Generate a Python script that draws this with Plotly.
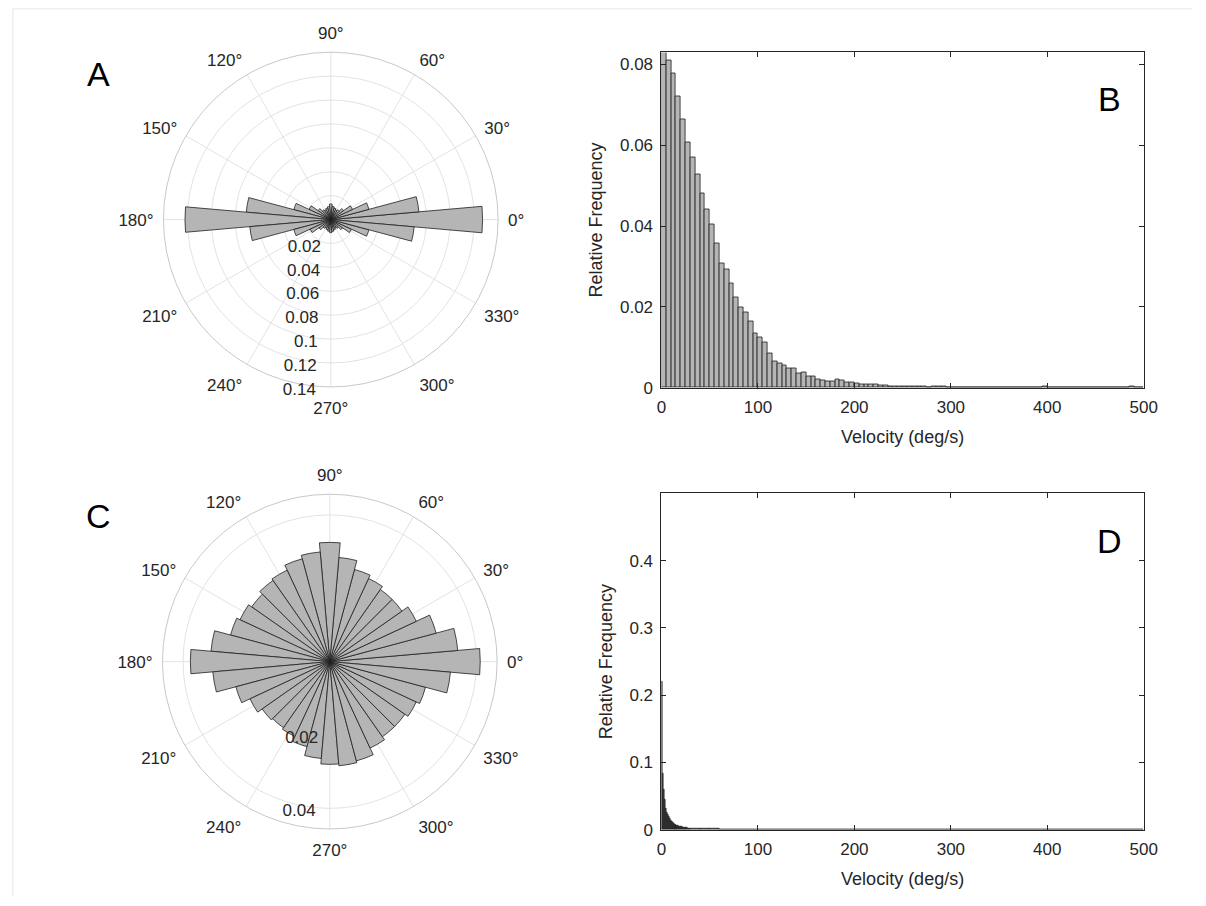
import numpy as np
import plotly.graph_objects as go

# ---------------- data ----------------
theta_centers = list(range(0, 360, 10))

# Panel A: relative frequency per 10-degree direction bin
rose_a = [0.127, 0.074, 0.033, 0.020, 0.013, 0.010, 0.009, 0.010, 0.011,
          0.013, 0.011, 0.010, 0.009, 0.010, 0.013, 0.020, 0.032, 0.071,
          0.122, 0.068, 0.032, 0.019, 0.012, 0.009, 0.008, 0.009, 0.010,
          0.011, 0.010, 0.009, 0.008, 0.009, 0.012, 0.019, 0.033, 0.070]

# Panel C
rose_c = [0.041, 0.035, 0.030, 0.026, 0.024, 0.024, 0.025, 0.026, 0.0285,
          0.0325, 0.030, 0.029, 0.0275, 0.027, 0.026, 0.027, 0.028, 0.0325,
          0.038, 0.032, 0.0265, 0.024, 0.0225, 0.022, 0.0225, 0.024, 0.0265,
          0.028, 0.0285, 0.028, 0.026, 0.025, 0.025, 0.026, 0.027, 0.033]

# Panel B: velocity histogram, 5 deg/s bins from 0 to 500
bin_width_b = 5
hist_b = [0.0832, 0.0811, 0.0777, 0.0722, 0.0664, 0.0606, 0.0569, 0.0528, 0.0480, 0.0442,
          0.0405, 0.0358, 0.0307, 0.0294, 0.0259, 0.0223, 0.0199, 0.0186, 0.0163, 0.0134,
          0.0125, 0.0112, 0.0085, 0.0065, 0.0059, 0.0055, 0.0047, 0.0047, 0.0036, 0.0039,
          0.0029, 0.0029, 0.0021, 0.0019, 0.0016, 0.0015, 0.0020, 0.0018, 0.0013, 0.0012,
          0.0011, 0.0007, 0.0007, 0.0009, 0.0007, 0.0005, 0.0005, 0.0004, 0.0004, 0.0003,
          0.0004, 0.0002, 0.0003, 0.0002, 0.0002, 0.0001, 0.0002, 0.0004, 0.0003, 0.0001,
          0.0001, 0.00015, 0.0001, 0.00008, 0.0001, 0.00012, 0.0001, 0.00008, 0.0001, 0.0001,
          0.00006, 0.0001, 0.00012, 0.0001, 0.00008, 0.0001, 0.00006, 0.0001, 0.00008, 0.0002,
          0.0001, 0.00006, 0.0001, 0.00008, 0.0001, 0.0, 0.0, 0.0, 0.0, 0.0,
          0.0, 0.0, 0.0, 0.0, 0.0, 0.0, 0.0, 0.0002, 0.0, 0.0]

# Panel D: fine bins (1 deg/s) from 0 to 30, then 10 deg/s bins up to 500
head_width_d = 1
hist_d_head = [0.221, 0.0835, 0.060, 0.0444, 0.032, 0.026, 0.0224, 0.019, 0.0165, 0.014,
               0.0125, 0.011, 0.0095, 0.0085, 0.0078, 0.007, 0.0064, 0.0058, 0.0053, 0.0049,
               0.0045, 0.0041, 0.0038, 0.0035, 0.0032, 0.0030, 0.0028, 0.0026, 0.0024, 0.0023]
tail_start_d = 30
tail_width_d = 10
hist_d_tail = [0.0020, 0.0016, 0.0013, 0.0011, 0.0010, 0.0009, 0.0008, 0.0008, 0.0007, 0.0007,
               0.0006, 0.0006, 0.0005, 0.0005, 0.0004, 0.0004, 0.0004, 0.0003, 0.0003, 0.0003,
               0.0003, 0.0002, 0.0002, 0.0002, 0.0002, 0.0002, 0.0002, 0.0001, 0.0002, 0.0001,
               0.0001, 0.0001, 0.0002, 0.0001, 0.0001, 0.0001, 0.0001, 0.0001, 0.0001, 0.0001,
               0.0001, 0.00005, 0.0001, 0.00005, 0.0001, 0.00005, 0.0]

angle_ticks = list(range(0, 360, 30))
angle_labels = [f"{a}°" for a in angle_ticks]
r_ticks_a = [0.02, 0.04, 0.06, 0.08, 0.1, 0.12, 0.14]
r_ticks_c = [0.02, 0.04]
x_ticks = [0, 100, 200, 300, 400, 500]
y_ticks_b = [0, 0.02, 0.04, 0.06, 0.08]
y_ticks_d = [0, 0.1, 0.2, 0.3, 0.4]

# ---------------- style ----------------
W, H = 1206, 906
FONT = "Liberation Sans, Arial, Helvetica, sans-serif"
TXT = "#262626"
FILL = "#b5b5b5"
EDGE = "#1f1f1f"
GRID = "#e3e3e3"
R_ANGLE = 268


def px_x(x):
    return x / W


def px_y(y):
    return 1 - y / H


fig = go.Figure()

fig.add_trace(go.Barpolar(r=rose_a, theta=theta_centers, width=10, subplot="polar",
                          marker=dict(color=FILL, line=dict(color=EDGE, width=0.8)),
                          showlegend=False))
fig.add_trace(go.Barpolar(r=rose_c, theta=theta_centers, width=10, subplot="polar2",
                          marker=dict(color=FILL, line=dict(color=EDGE, width=0.8)),
                          showlegend=False))

xb = [bin_width_b * (i + 0.5) for i in range(len(hist_b))]
fig.add_trace(go.Bar(x=xb, y=hist_b, width=bin_width_b, xaxis="x", yaxis="y",
                     marker=dict(color=FILL, line=dict(color=EDGE, width=0.8)),
                     showlegend=False))

xd_head = [head_width_d * (i + 0.5) for i in range(len(hist_d_head))]
xd_tail = [tail_start_d + tail_width_d * (i + 0.5) for i in range(len(hist_d_tail))]
fig.add_trace(go.Bar(x=xd_head, y=hist_d_head, width=head_width_d, xaxis="x2", yaxis="y2",
                     marker=dict(color="#3a3a3a", line=dict(color=EDGE, width=0.6)),
                     showlegend=False))
fig.add_trace(go.Bar(x=xd_tail, y=hist_d_tail, width=tail_width_d, xaxis="x2", yaxis="y2",
                     marker=dict(color="#3a3a3a", line=dict(color=EDGE, width=0.6)),
                     showlegend=False))


def polar_layout(cx, cy, rad, rmax, rticks):
    return dict(
        domain=dict(x=[px_x(cx - rad), px_x(cx + rad)], y=[px_y(cy + rad), px_y(cy - rad)]),
        bgcolor="white",
        angularaxis=dict(rotation=0, direction="counterclockwise",
                         tickvals=angle_ticks, ticktext=angle_labels,
                         ticks="outside", ticklen=6, tickcolor="rgba(0,0,0,0)",
                         showline=True, linecolor="#c8c8c8", linewidth=1,
                         gridcolor=GRID, gridwidth=1,
                         tickfont=dict(family=FONT, size=17, color=TXT)),
        radialaxis=dict(range=[0, rmax], tickvals=rticks,
                        ticktext=[f"{v:g}" for v in rticks],
                        angle=R_ANGLE, tickangle=R_ANGLE - 360, showline=False, ticks="",
                        gridcolor=GRID, gridwidth=1,
                        tickfont=dict(family=FONT, size=17, color=TXT)),
    )


def cart_axes(x0, x1, y0, y1, yrange, yticks, anchor):
    xa = dict(domain=[px_x(x0), px_x(x1)], range=[0, 500], tickvals=x_ticks,
              ticktext=[str(v) for v in x_ticks], anchor=anchor,
              ticks="inside", ticklen=5, tickcolor=TXT, mirror="ticks",
              showline=True, linecolor=TXT, linewidth=1, showgrid=False, zeroline=False,
              ticklabelstandoff=4,
              tickfont=dict(family=FONT, size=17, color=TXT),
              title=dict(text="Velocity (deg/s)", font=dict(family=FONT, size=18, color=TXT),
                         standoff=14))
    ya = dict(domain=[px_y(y1), px_y(y0)], range=yrange, tickvals=yticks,
              ticktext=[f"{v:g}" for v in yticks],
              ticks="inside", ticklen=5, tickcolor=TXT, mirror="ticks",
              showline=True, linecolor=TXT, linewidth=1, showgrid=False, zeroline=False,
              ticklabelstandoff=4,
              tickfont=dict(family=FONT, size=17, color=TXT),
              title=dict(text="Relative Frequency", font=dict(family=FONT, size=18, color=TXT),
                         standoff=12))
    return xa, ya


xa1, ya1 = cart_axes(667, 1157, 53, 392, [0, 0.083], y_ticks_b, "y")
xa2, ya2 = cart_axes(667, 1157, 499, 839, [0, 0.5], y_ticks_d, "y2")
ya1["anchor"] = "x"
ya2["anchor"] = "x2"

letters = [("A", 95, 75), ("B", 1122, 100), ("C", 95, 522), ("D", 1122, 547)]
annotations = [dict(text=t, x=px_x(x), y=px_y(y), xref="paper", yref="paper",
                    showarrow=False, xanchor="center", yanchor="middle",
                    font=dict(family=FONT, size=34, color="black"))
               for t, x, y in letters]

shapes = [
    dict(type="line", xref="paper", yref="paper", x0=px_x(8), x1=1, y0=px_y(9), y1=px_y(9),
         line=dict(color="#e6e6e6", width=1)),
    dict(type="line", xref="paper", yref="paper", x0=px_x(8), x1=px_x(8), y0=0, y1=px_y(9),
         line=dict(color="#e6e6e6", width=1)),
]

fig.update_layout(
    width=W, height=H, margin=dict(l=0, r=0, t=0, b=0),
    paper_bgcolor="white", plot_bgcolor="white",
    bargap=0, barmode="overlay",
    polar=polar_layout(331, 222, 170, 0.14, r_ticks_a),
    polar2=polar_layout(330, 669, 170, 0.0456, r_ticks_c),
    xaxis=xa1, yaxis=ya1, xaxis2=xa2, yaxis2=ya2,
    annotations=annotations, shapes=shapes,
    font=dict(family=FONT, color=TXT),
)

fig.write_html("out.html", config={"displayModeBar": False},
               post_script=("document.body.style.margin='0';"
                            "document.body.style.overflow='hidden';"
                            "document.documentElement.style.overflow='hidden';"))
